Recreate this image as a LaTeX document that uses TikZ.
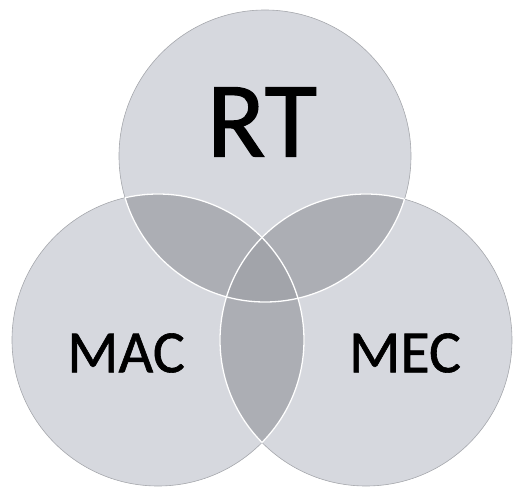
\documentclass[tikz,border=0pt]{standalone}
\usepackage{fontspec}
\setmainfont{Carlito}
\newfontfamily\vennfont[FakeBold=1]{Carlito}
\definecolor{basegray}{RGB}{214,216,222}
\definecolor{pairgray}{RGB}{172,174,180}
\definecolor{triplegray}{RGB}{162,164,170}
\definecolor{edgegray}{RGB}{165,167,172}
\tikzset{
  venntext/.style={inner sep=0pt, text=black},
  whiteline/.style={draw=white, line width=1.3pt},
}
\begin{document}
\begin{tikzpicture}[x=1pt,y=1pt]
\useasboundingbox (0,0) rectangle (514,491);
\def\R{146}
\coordinate (T) at (265,335);
\coordinate (L) at (158,151);
\coordinate (M) at (366,151);
% base fills
\fill[basegray] (T) circle (\R);
\fill[basegray] (L) circle (\R);
\fill[basegray] (M) circle (\R);
% pairwise overlaps
\begin{scope}\clip (T) circle (\R); \fill[pairgray] (L) circle (\R);\end{scope}
\begin{scope}\clip (T) circle (\R); \fill[pairgray] (M) circle (\R);\end{scope}
\begin{scope}\clip (L) circle (\R); \fill[pairgray] (M) circle (\R);\end{scope}
% triple overlap
\begin{scope}\clip (T) circle (\R); \clip (L) circle (\R); \fill[triplegray] (M) circle (\R);\end{scope}
% outer edges
\draw[edgegray, line width=0.6pt] (T) circle (\R);
\draw[edgegray, line width=0.6pt] (L) circle (\R);
\draw[edgegray, line width=0.6pt] (M) circle (\R);
% white inner arcs
\begin{scope}\clip (L) circle (\R) (M) circle (\R); \draw[whiteline] (T) circle (\R);\end{scope}
\begin{scope}\clip (T) circle (\R) (M) circle (\R); \draw[whiteline] (L) circle (\R);\end{scope}
\begin{scope}\clip (T) circle (\R) (L) circle (\R); \draw[whiteline] (M) circle (\R);\end{scope}
% labels
\node[venntext, font=\vennfont\fontsize{108}{108}\selectfont] (rt) at (262,369) {RT};
\node[venntext, font=\vennfont\fontsize{60}{60}\selectfont] (mac) at (126,138) {MAC};
\node[venntext, font=\vennfont\fontsize{60}{60}\selectfont] (mec) at (405,138) {MEC};
\end{tikzpicture}
\end{document}
